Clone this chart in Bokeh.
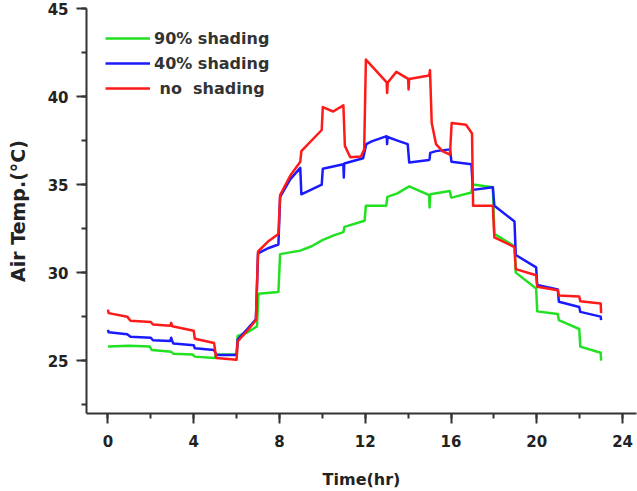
from bokeh.plotting import figure
from bokeh.models import Range1d, SingleIntervalTicker, Legend, LegendItem
from bokeh.embed import file_html
from bokeh.resources import INLINE

# ---- data ----
t_90 = [0.0, 1.0, 1.95, 2.05, 2.95, 3.05, 3.95, 4.05, 4.95, 5.05,
        6.0, 6.05, 6.5, 6.95, 7.02, 7.95, 8.03, 8.97, 9.5, 10.0,
        10.5, 10.98, 11.03, 11.97, 12.03, 12.98, 13.03, 13.5, 14.05, 14.98,
        15.0, 15.03, 15.94, 16.0, 16.03, 16.95, 17.02, 17.95, 18.02, 18.96,
        19.02, 19.97, 20.02, 20.98, 21.03, 21.98, 22.03, 22.98, 23.0]
v_90 = [25.8, 25.85, 25.8, 25.6, 25.5, 25.4, 25.35, 25.23, 25.15, 25.35,
        25.35, 26.4, 26.6, 26.95, 28.8, 28.9, 31.05, 31.25, 31.5, 31.85,
        32.1, 32.3, 32.6, 32.95, 33.8, 33.8, 34.3, 34.5, 34.9, 34.4,
        33.7, 34.45, 34.64, 34.3, 34.26, 34.55, 35.0, 34.85, 32.2, 31.5,
        30.0, 29.1, 27.8, 27.65, 27.3, 26.8, 25.8, 25.45, 25.0]

t_40 = [0.0, 0.03, 0.9, 1.05, 2.0, 2.1, 2.9, 2.95, 3.0, 3.05,
        4.0, 4.05, 4.95, 5.05, 6.0, 6.05, 6.5, 6.9, 7.0, 7.5,
        7.95, 8.03, 8.5, 8.97, 9.02, 9.97, 10.02, 10.98, 11.0, 11.02,
        11.9, 12.05, 12.3, 13.0, 13.02, 13.04, 13.5, 13.98, 14.05, 14.98,
        15.0, 15.03, 15.3, 15.95, 16.02, 16.95, 17.02, 17.95, 18.02, 18.96,
        19.02, 19.97, 20.02, 20.98, 21.03, 21.98, 22.03, 22.98, 23.0]
v_40 = [26.75, 26.62, 26.5, 26.36, 26.3, 26.16, 26.12, 26.3, 26.1, 25.98,
        25.88, 25.7, 25.6, 25.32, 25.32, 26.2, 26.8, 27.35, 31.1, 31.4,
        31.6, 34.3, 35.3, 35.95, 34.45, 35.0, 35.9, 36.15, 35.4, 36.2,
        36.5, 37.3, 37.45, 37.75, 37.3, 37.7, 37.5, 37.3, 36.25, 36.4,
        36.45, 36.8, 36.9, 37.0, 36.3, 36.15, 34.7, 34.85, 33.8, 32.9,
        31.0, 30.3, 29.3, 29.05, 28.35, 28.05, 27.77, 27.5, 27.3]

t_no = [0.0, 0.03, 0.9, 1.05, 2.0, 2.1, 2.9, 2.95, 3.0, 4.0,
        4.05, 4.95, 5.05, 6.0, 6.05, 6.5, 6.9, 7.0, 7.5, 7.95,
        8.03, 8.5, 8.97, 9.02, 9.97, 10.02, 10.5, 10.98, 11.05, 11.3,
        11.8, 11.95, 12.03, 13.0, 13.02, 13.05, 13.45, 14.0, 14.02, 14.05,
        14.98, 15.02, 15.1, 15.3, 15.6, 15.95, 16.03, 16.7, 16.98, 17.03,
        17.95, 18.02, 18.96, 19.02, 19.97, 20.02, 20.98, 21.03, 21.98, 22.03,
        22.98, 23.0]
v_no = [27.9, 27.7, 27.5, 27.27, 27.2, 27.05, 26.98, 27.15, 26.95, 26.7,
        26.25, 26.0, 25.15, 25.05, 26.1, 26.7, 27.3, 31.2, 31.8, 32.2,
        34.4, 35.5, 36.3, 36.9, 38.1, 39.4, 39.15, 39.5, 37.2, 36.55,
        36.6, 37.0, 42.1, 40.8, 40.2, 40.8, 41.4, 41.0, 40.4, 41.0,
        41.2, 41.5, 38.5, 37.3, 36.9, 36.7, 38.5, 38.4, 37.9, 33.8,
        33.8, 32.0, 31.45, 30.2, 29.85, 29.2, 29.0, 28.7, 28.65, 28.37,
        28.25, 27.7]

series_labels = ["90% shading", "40% shading", "\u00a0no\u00a0\u00a0shading"]
x_ticks_interval = 4
y_ticks_interval = 5

FONT = "DejaVu Sans"
AX = "#333333"

p = figure(width=637, height=491, output_backend="svg", toolbar_location=None,
           x_range=Range1d(-1, 24.65), y_range=Range1d(22, 45),
           min_border_left=86, min_border_right=1, min_border_top=8,
           min_border_bottom=76)
p.outline_line_color = None
p.xgrid.visible = False
p.ygrid.visible = False
p.background_fill_color = "white"
p.border_fill_color = "white"

p.xaxis.ticker = SingleIntervalTicker(interval=x_ticks_interval, num_minor_ticks=2)
p.yaxis.ticker = SingleIntervalTicker(interval=y_ticks_interval, num_minor_ticks=2)

for ax in (p.xaxis, p.yaxis):
    ax.axis_line_width = 2
    ax.axis_line_color = AX
    ax.major_tick_line_width = 2
    ax.minor_tick_line_width = 2
    ax.major_tick_line_color = AX
    ax.minor_tick_line_color = AX
    ax.major_tick_in = 0
    ax.major_tick_out = 10
    ax.minor_tick_in = 0
    ax.minor_tick_out = 5
    ax.major_label_text_font = FONT
    ax.major_label_text_font_style = "bold"
    ax.major_label_text_font_size = "15px"
    ax.major_label_text_color = "#222222"
    ax.axis_label_text_font = FONT
    ax.axis_label_text_font_style = "bold"
    ax.axis_label_text_color = "#222222"

p.xaxis.major_label_standoff = 11
p.yaxis.major_label_standoff = 8
p.xaxis.axis_label = "Time(hr)"
p.xaxis.axis_label_text_font_size = "16px"
p.xaxis.axis_label_standoff = 20
p.yaxis.axis_label = "Air Temp.(\u00b0C)"
p.yaxis.axis_label_text_font_size = "19px"
p.yaxis.axis_label_standoff = 16

LW = 2.5
r90 = p.line(t_90, v_90, line_color="#22e022", line_width=LW, line_join="round")
r40 = p.line(t_40, v_40, line_color="#1a1aff", line_width=LW, line_join="round")
rno = p.line(t_no, v_no, line_color="#ff1a1a", line_width=LW, line_join="round")

legend = Legend(items=[LegendItem(label=series_labels[0], renderers=[r90]),
                       LegendItem(label=series_labels[1], renderers=[r40]),
                       LegendItem(label=series_labels[2], renderers=[rno])],
                location=(19, 315), border_line_color=None,
                background_fill_alpha=0, margin=0, padding=0,
                glyph_width=45, glyph_height=20, label_height=20,
                label_standoff=4, spacing=5,
                label_text_font=FONT, label_text_font_style="bold",
                label_text_font_size="16px", label_text_color="#333333")
p.add_layout(legend, "center")

open("out.html", "w").write(file_html(p, INLINE))
